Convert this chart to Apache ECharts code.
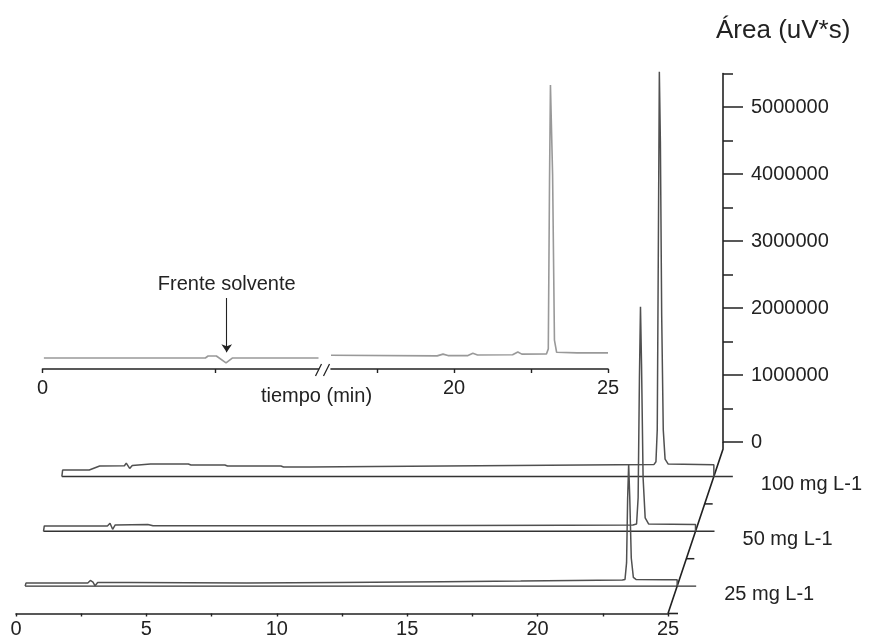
<!DOCTYPE html>
<html><head><meta charset="utf-8">
<script src="https://cdn.jsdelivr.net/npm/echarts@6/dist/echarts.min.js"></script>
<style>html,body{margin:0;padding:0;background:#fff}#c{width:873px;height:639px}</style>
</head><body><div id="c"></div>
<script>
// ---------------- data ----------------
const timeLabels = [0, 5, 10, 15, 20, 25];
const areaTickLabels = [0, 1000000, 2000000, 3000000, 4000000, 5000000];
const concentrations = ['25 mg L-1', '50 mg L-1', '100 mg L-1'];
const trace25 = [[0,0],[0.03,45000],[2.4,45000],[2.5,85000],[2.6,60000],[2.68,5000],[2.78,55000],[4.0,52000],[8.5,45000],[12,55000],[16,65000],[19,75000],[21,85000],[22.9,92000],[23.0,100000],[23.06,350000],[23.1,1300000],[23.14,1820000],[23.18,1350000],[23.24,420000],[23.32,130000],[23.42,100000],[24.5,95000],[25,95000],[25,0]];
const trace50 = [[0,0],[0.03,80000],[2.45,80000],[2.55,120000],[2.65,30000],[2.75,95000],[4.0,100000],[4.2,82000],[10,82000],[16,88000],[20,92000],[22.6,95000],[22.74,110000],[22.8,500000],[22.85,2300000],[22.89,3350000],[22.93,2500000],[22.99,800000],[23.07,200000],[23.2,110000],[25,100000],[25,0]];
const trace100 = [[0,0],[0.03,97000],[1.05,97000],[1.45,157000],[2.4,160000],[2.47,200000],[2.6,120000],[2.7,165000],[3.4,187000],[4.85,187000],[4.95,172000],[6.25,172000],[6.35,157000],[8.4,157000],[8.5,142000],[9.5,142000],[12,150000],[16,160000],[20,170000],[22.7,178000],[22.78,220000],[22.83,700000],[22.87,3300000],[22.91,6040000],[22.95,5000000],[23.0,2400000],[23.06,700000],[23.13,260000],[23.25,185000],[25,175000],[25,0]];
const insetLeftTicks = [0, 2.5];
const insetLeftLabels = [0];
const insetRightTicks = [17.5, 20, 22.5, 25];
const insetRightLabels = [20, 25];
const insetTraceA = [[0.02,164000],[2.36,164000],[2.4,194000],[2.52,194000],[2.66,90000],[2.75,164000],[4.0,164000]];
const insetTraceB = [[16,205000],[19.45,196000],[19.64,222000],[19.8,200000],[20.45,200000],[20.61,234000],[20.76,210000],[21.9,212000],[22.07,254000],[22.2,222000],[23.0,225000],[23.06,300000],[23.1,2800000],[23.13,4240000],[23.2,2900000],[23.26,430000],[23.33,250000],[24,240000],[25,240000]];
const solventFront = { time: 2.67, label: 'Frente solvente' };
const areaTitle = 'Área (uV*s)';
const timeTitle = 'tiempo (min)';

// ---------------- layout ----------------
const F = '"Liberation Sans", Arial, sans-serif';
const TXT = '#222', AX = '#222';
const L = {
  mainLeft: 16, mainWidth: 652, mainBottom: 613.5,
  step: [9.17, -27.4], depth: [1, 3, 5], depthTop: 6,
  ppu: 67 / 1e6, seriesMax: 6.5e6,
  areaRight: 723, areaZero: 442, areaMax: 5.5e6,
  insetBottom: 369, insetMax: 4.5e6,
  insetL: { left: 42.5, width: 276, min: 0, max: 4 },
  insetR: { left: 331, width: 277, min: 16, max: 25 },
  arrowTop: 1.06e6, arrowTip: 0.25e6
};

const grids = [], xAxes = [], yAxes = [];
const hidden = (gi, max) => ({ gridIndex: gi, type: 'value', min: 0, max: max, show: false, axisLine: { onZero: false } });
// 0: main time axis
grids.push({ left: L.mainLeft, width: L.mainWidth, top: L.mainBottom - 30, height: 30 });
xAxes.push({ gridIndex: 0, type: 'value', min: 0, max: 25, interval: 2.5,
  axisLine: { onZero: false, lineStyle: { color: AX, width: 1.6 } },
  axisTick: { length: 3, lineStyle: { color: AX, width: 1.4 } },
  axisLabel: { formatter: v => timeLabels.includes(v) ? String(v) : '', fontSize: 20, color: TXT, fontFamily: F, margin: 6 },
  splitLine: { show: false } });
yAxes.push(hidden(0, 1));
// 1-3: series grids
const sH = L.seriesMax * L.ppu;
L.depth.forEach((k, i) => {
  const bottom = L.mainBottom + L.step[1] * k;
  grids.push({ left: L.mainLeft + L.step[0] * k, width: L.mainWidth, top: bottom - sH, height: sH });
  xAxes.push(hidden(i + 1, 25));
  yAxes.push(hidden(i + 1, L.seriesMax));
});
// 4,5: area axis
const aH = L.areaMax * L.ppu;
for (let j = 0; j < 2; j++) {
  grids.push({ left: L.areaRight - 23, width: 23, top: L.areaZero - aH, height: aH });
  xAxes.push(hidden(4 + j, 1));
}
yAxes.push({ gridIndex: 4, type: 'value', position: 'right', min: 0, max: L.areaMax, interval: 500000,
  axisLine: { show: true, onZero: false, lineStyle: { color: AX, width: 1.6 } },
  axisTick: { show: true, length: 10, lineStyle: { color: AX, width: 1.5 } },
  axisLabel: { show: false }, splitLine: { show: false } });
yAxes.push({ gridIndex: 5, type: 'value', position: 'right', min: 0, max: L.areaMax, interval: 1000000,
  axisLine: { show: false, onZero: false },
  axisTick: { show: true, length: 20, customValues: areaTickLabels, lineStyle: { color: AX, width: 1.5 } },
  axisLabel: { show: true, customValues: areaTickLabels, formatter: v => String(v), margin: 28, fontSize: 20, color: TXT, fontFamily: F },
  splitLine: { show: false } });
// 6,7: inset
const iH = L.insetMax * L.ppu;
[[L.insetL, insetLeftTicks, insetLeftLabels], [L.insetR, insetRightTicks, insetRightLabels]].forEach(([g, ticks, labels], j) => {
  grids.push({ left: g.left, width: g.width, top: L.insetBottom - iH, height: iH });
  xAxes.push({ gridIndex: 6 + j, type: 'value', min: g.min, max: g.max,
    axisLine: { onZero: false, lineStyle: { color: AX, width: 1.6 } },
    axisTick: { customValues: ticks, length: 4, lineStyle: { color: AX, width: 1.4 } },
    axisLabel: { customValues: labels, fontSize: 20, color: TXT, fontFamily: F, margin: 9 },
    splitLine: { show: false } });
  yAxes.push(hidden(6 + j, L.insetMax));
});
grids.forEach(g => { g.outerBoundsMode = 'none'; g.containLabel = false; });

const traceStyle = { type: 'line', showSymbol: false, symbol: 'none', smooth: false, lineStyle: { color: '#505050', width: 1.5 } };
const insetStyle = { type: 'line', showSymbol: false, symbol: 'none', smooth: false, lineStyle: { color: '#999', width: 1.6 } };

const option = {
  animation: false,
  backgroundColor: '#fff',
  grid: grids, xAxis: xAxes, yAxis: yAxes,
  series: [
    Object.assign({ xAxisIndex: 1, yAxisIndex: 1, data: trace25, name: concentrations[0] }, traceStyle),
    Object.assign({ xAxisIndex: 2, yAxisIndex: 2, data: trace50, name: concentrations[1] }, traceStyle),
    Object.assign({ xAxisIndex: 3, yAxisIndex: 3, data: trace100, name: concentrations[2] }, traceStyle),
    Object.assign({ xAxisIndex: 6, yAxisIndex: 6, data: insetTraceA,
      markLine: { silent: true, animation: false, symbol: ['none', 'arrow'], symbolSize: 8,
        lineStyle: { color: '#222', width: 1.1, type: 'solid' },
        label: { show: true, position: 'start', formatter: solventFront.label, fontSize: 20, color: TXT, fontFamily: F, distance: 3 },
        data: [[{ coord: [solventFront.time, L.arrowTop] }, { coord: [solventFront.time, L.arrowTip] }]] } }, insetStyle),
    Object.assign({ xAxisIndex: 7, yAxisIndex: 7, data: insetTraceB }, insetStyle)
  ]
};

const chart = echarts.init(document.getElementById('c'));
chart.setOption(option);

// ---------- decorations computed from the axes ----------
const px = (i, v) => chart.convertToPixel({ xAxisIndex: i, yAxisIndex: i }, v);
const seg = (a, b, w, c) => ({ type: 'line', silent: true, shape: { x1: a[0], y1: a[1], x2: b[0], y2: b[1] }, style: { stroke: c || AX, lineWidth: w || 1.5 } });
const txt = (x, y, s, size, align) => ({ type: 'text', silent: true, x: x, y: y,
  style: { text: s, fill: TXT, font: size + 'px ' + F, align: align || 'left', textAlign: align || 'left', verticalAlign: 'middle', textVerticalAlign: 'middle' } });
const g = [];
const base = px(0, [25, 0]);
const P = k => [base[0] + L.step[0] * k, base[1] + L.step[1] * k];
const zeroY = chart.convertToPixel({ yAxisIndex: 4 }, 0);
g.push({ type: 'polyline', silent: true, shape: { points: [base, P(L.depthTop), [L.areaRight, zeroY]] }, style: { stroke: AX, lineWidth: 1.6, fill: 'none' } });
g.push(seg(base, [base[0] + 10, base[1]], 1.6));
[2, 4].forEach(k => { const p = P(k); g.push(seg(p, [p[0] + 8, p[1]], 1.5)); });
L.depth.forEach((k, i) => {
  const p0 = px(i + 1, [0, 0]), p1 = px(i + 1, [25, 0]);
  g.push(seg(p0, [p1[0] + 19, p1[1]], 1.4, '#333'));
  g.push(txt(p1[0] + 47, p1[1] + 8, concentrations[i], 20));
});
g.push(txt(716, 31, areaTitle, 26));
const b = px(6, [L.insetL.max, 0]);
g.push(txt(b[0] - 2, b[1] + 27, timeTitle, 20, 'center'));
g.push(seg([b[0] - 3, b[1] + 7], [b[0] + 3, b[1] - 5], 1.3));
g.push(seg([b[0] + 5, b[1] + 7], [b[0] + 11, b[1] - 5], 1.3));
chart.setOption({ graphic: { elements: g } });
</script></body></html>
